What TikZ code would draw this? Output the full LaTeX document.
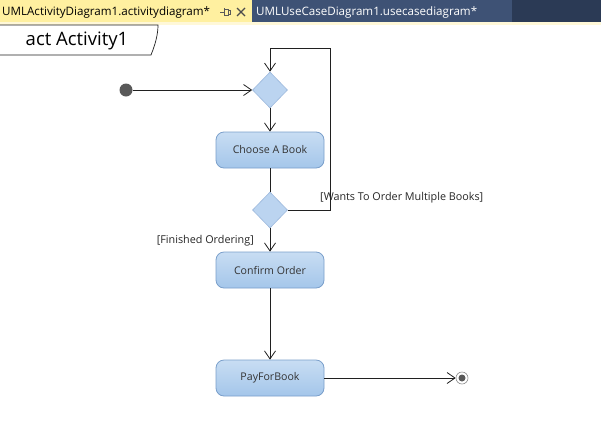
\documentclass[tikz,border=0pt]{standalone}
\usepackage{fontspec}
\setmainfont{Open Sans}
\usetikzlibrary{arrows.meta,shapes.geometric}
\definecolor{tabdark}{HTML}{2B3A55}
\definecolor{tabblue}{HTML}{3E5275}
\definecolor{tabyellow}{HTML}{FFF0A0}
\definecolor{strip}{HTML}{FFF8D8}
\definecolor{boxtop}{HTML}{C8DDF3}
\definecolor{boxbot}{HTML}{A4C6EA}
\definecolor{boxline}{HTML}{7A9FCB}
\definecolor{diafill}{HTML}{BBD4F0}
\definecolor{dialine}{HTML}{9CB8DC}
\definecolor{linecol}{HTML}{202020}
\tikzset{
  actbox/.style={draw=boxline, line width=0.8pt, rounded corners=8pt, top color=boxtop, bottom color=boxbot,
    minimum width=108pt, minimum height=36pt, inner sep=0pt, font=\fontsize{10.6}{12}\selectfont, text=black!80},
  decision/.style={diamond, draw=dialine, fill=diafill, line width=0.6pt, minimum width=35pt, minimum height=36pt, inner sep=0pt},
  flow/.style={draw=linecol, line width=0.8pt, -{Straight Barb[length=8pt,width=11pt,line width=0.8pt]}},
  plain/.style={draw=linecol, line width=0.8pt},
  guard/.style={font=\fontsize{10.8}{12}\selectfont, text=black!85, inner sep=0pt},
  tabtext/.style={font=\fontsize{11.6}{13}\selectfont, inner sep=0pt, anchor=west}
}
\begin{document}
\begin{tikzpicture}[x=1pt,y=-1pt]
\useasboundingbox (0,0) rectangle (601,434);
\fill[white] (0,0) rectangle (601,434);
% tab bar
\fill[tabdark] (0,0) rectangle (601,22);
\fill[tabyellow] (0,0) rectangle (252,22);
\fill[tabblue] (252,0) rectangle (512,22);
\fill[strip] (0,22) rectangle (601,25);
\node[tabtext, text=black] (tab1) at (2,12) {UMLActivityDiagram1.activitydiagram*};
\node[tabtext, text=white] (tab2) at (256,12) {UMLUseCaseDiagram1.usecasediagram*};
% pin icon
\draw[gray!70!black, line width=0.7pt] (220,12) -- (224,12) (224,9) rectangle (228,15) (228,10) -- (230,10) -- (230,14) -- (228,14) (224,8) -- (224,16);
% close x
\draw[gray!60!black, line width=1.1pt] (237,8) -- (245,16) (245,8) -- (237,16);
% frame label
\draw[linecol, line width=0.7pt, fill=white] (-1,25) -- (158,25) .. controls (158,35) and (155,45) .. (151,55) -- (-1,55);
\node[font=\fontsize{18.5}{22}\selectfont, inner sep=0pt] (frame) at (77,41) {act Activity1};
% nodes
\node[circle, fill=black!65, minimum size=13pt, inner sep=0pt] (init) at (126,90) {};
\node[decision] (d1) at (270,90) {};
\node[actbox] (choose) at (270,150) {Choose A Book};
\node[decision] (d2) at (270,210) {};
\node[actbox] (confirm) at (270,270) {Confirm Order};
\node[actbox] (pay) at (270,378) {PayForBook};
\node[circle, draw=black!45, line width=0.6pt, minimum size=12pt, inner sep=0pt] (final) at (462,378) {};
\node[circle, fill=black!65, minimum size=7pt, inner sep=0pt] (finaldot) at (final.center) {};
\coordinate (loop) at (330,48);
% edges
\draw[flow] (init) -- (d1.west);
\draw[flow] (d1.south) -- (choose.north);
\draw[plain] (choose.south) -- (d2.north);
\draw[flow] (d2.east) -| (loop) -| (d1.north);
\draw[flow] (d2.south) -- (confirm.north);
\draw[flow] (confirm.south) -- (pay.north);
\draw[flow] (pay.east) -- (final.west);
% guards
\node[guard, anchor=west] (g1) at (320,198) {[Wants To Order Multiple Books]};
\node[guard, anchor=east] (g2) at (254,241) {[Finished Ordering]};
\end{tikzpicture}
\end{document}
